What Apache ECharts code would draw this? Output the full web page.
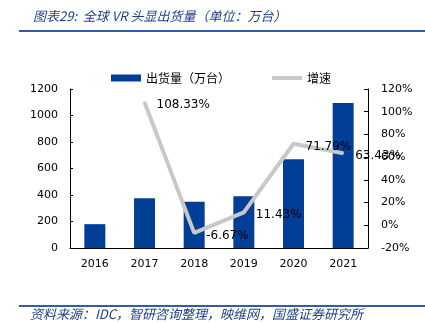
<!DOCTYPE html>
<html>
<head>
<meta charset="utf-8">
<script src="https://cdn.jsdelivr.net/npm/echarts@6/dist/echarts.min.js"></script>
<style>
html,body{margin:0;padding:0;background:#fff;}
#chart{width:425px;height:323px;}
</style>
</head>
<body>
<div id="chart"></div>
<script>
// Global VR headset shipments (10k units) and year-on-year growth
const years = ['2016', '2017', '2018', '2019', '2020', '2021'];
const shipments = [180, 375, 350, 390, 670, 1095];
const growth = [null, 108.33, -6.67, 11.43, 71.79, 63.43];
const leftTicks = { min: 0, max: 1200, interval: 200 };
const rightTicks = { min: -20, max: 120, interval: 20 };

const chart = echarts.init(document.getElementById('chart'), null, { renderer: 'canvas' });
const baseFont = "'DejaVu Sans', sans-serif";
const cjkFont = "'Noto Sans CJK SC', sans-serif";

chart.setOption({
  animation: false,
  backgroundColor: '#fff',
  title: {
    text: '图表29:  全球 VR 头显出货量（单位：万台）',
    left: 28, top: 5,
    textStyle: { fontSize: 13, fontStyle: 'italic', fontWeight: 'normal', color: '#1f3f86', fontFamily: cjkFont }
  },
  graphic: [
    { type: 'rect', shape: { x: 19, y: 30, width: 406, height: 2 }, style: { fill: '#2e5ea6' } },
    { type: 'rect', shape: { x: 19, y: 305, width: 406, height: 2 }, style: { fill: '#2e5ea6' } },
    { type: 'text', left: 30, top: 308, style: { text: '资料来源：IDC，智研咨询整理，映维网，国盛证券研究所', fontSize: 13, fontStyle: 'italic', fill: '#1f3f86', fontFamily: cjkFont } }
  ],
  legend: {
    top: 67, left: 106,
    itemGap: 42,
    itemWidth: 30, itemHeight: 7,
    textStyle: { fontSize: 12, color: '#000', fontFamily: cjkFont },
    data: [
      { name: '出货量（万台）', icon: 'rect' },
      { name: '增速', icon: 'path://M0,0h30v4h-30z', itemStyle: { color: '#c8c8c8' } }
    ]
  },
  grid: { left: 70, right: 57, top: 89, bottom: 75 },
  xAxis: {
    type: 'category',
    data: years,
    axisLine: { lineStyle: { color: '#000' } },
    axisTick: { show: false },
    axisLabel: { fontSize: 11, color: '#000', margin: 11, fontFamily: baseFont }
  },
  yAxis: [
    {
      type: 'value', ...leftTicks,
      axisLine: { show: true, lineStyle: { color: '#000' } },
      axisTick: { show: true, inside: true, length: 3, lineStyle: { color: '#000' } },
      splitLine: { show: false },
      axisLabel: { fontSize: 11, color: '#000', margin: 12, fontFamily: baseFont, formatter: v => String(v) }
    },
    {
      type: 'value', ...rightTicks,
      axisLine: { show: true, lineStyle: { color: '#000' } },
      axisTick: { show: true, inside: true, length: 4, lineStyle: { color: '#000' } },
      splitLine: { show: false },
      axisLabel: { fontSize: 11, color: '#000', margin: 13, formatter: v => v + '%', fontFamily: baseFont }
    }
  ],
  series: [
    {
      name: '出货量（万台）',
      type: 'bar',
      data: shipments,
      barWidth: 21,
      itemStyle: { color: '#003f98' }
    },
    {
      name: '增速',
      type: 'line',
      yAxisIndex: 1,
      data: growth,
      symbol: 'circle',
      symbolSize: 2,
      showSymbol: true,
      lineStyle: { color: '#c8c8c8', width: 4 },
      itemStyle: { color: '#c8c8c8' },
      label: {
        show: true, position: 'right', distance: 11, offset: [0, 3],
        fontSize: 12, color: '#000', fontFamily: baseFont,
        formatter: p => Number(p.value).toFixed(2) + '%'
      }
    }
  ]
});
</script>
</body>
</html>
